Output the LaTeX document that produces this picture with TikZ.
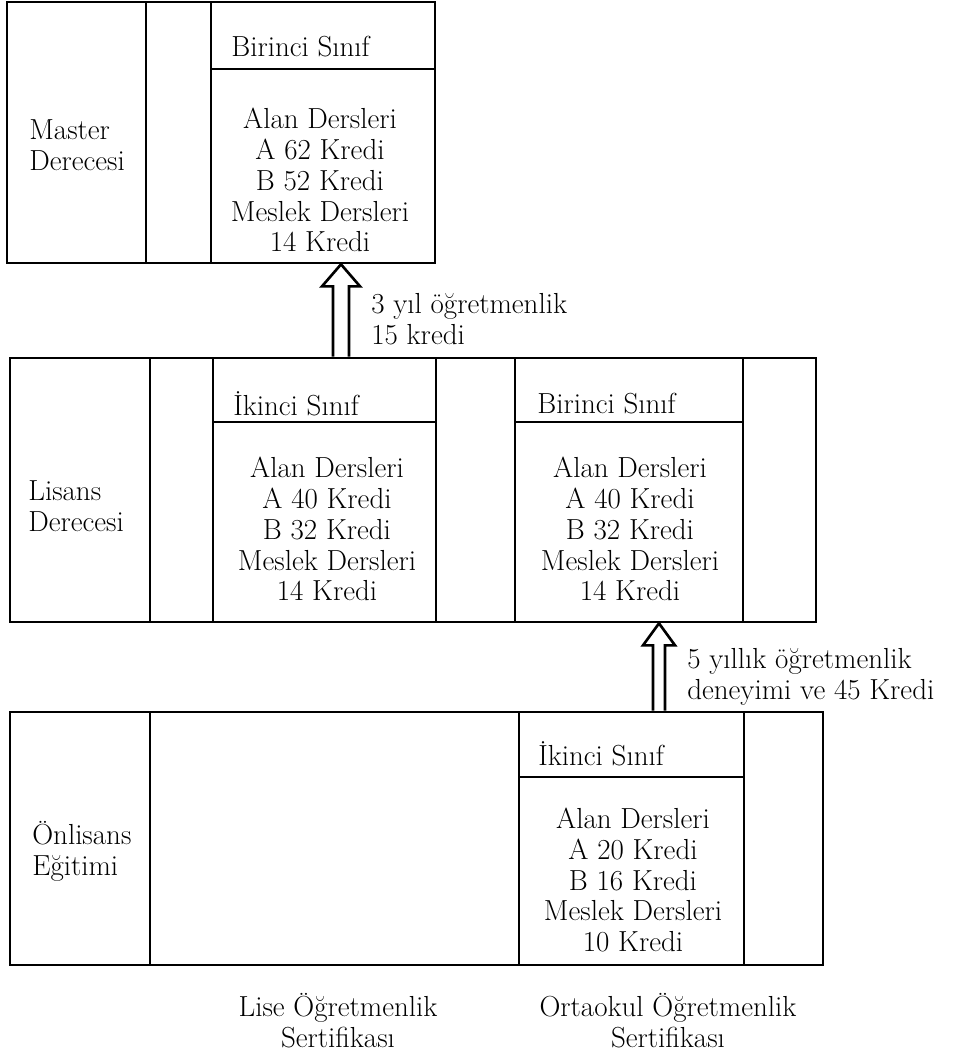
\documentclass[tikz,border=0pt]{standalone}
\usepackage{fontspec}
\usetikzlibrary{calc,fit}

\begin{document}
\begin{tikzpicture}[x=0.02cm, y=-0.02cm, line width=1.5pt,
    rowbox/.style={draw, inner sep=0pt},
    lbl/.style={inner sep=0pt, font=\fontsize{16.5}{17.6}\selectfont},
    hollow/.style={line width=1.5pt, line join=miter}]
  \useasboundingbox (0,0) rectangle (953,1063);
  % rows
  \node[rowbox, fit={(7,2) (435,263)}] (master) {};
  \node[rowbox, fit={(10,358) (816,622)}] (lisans) {};
  \node[rowbox, fit={(10,712) (823,965)}] (onlisans) {};
  % columns
  \foreach \x in {146,211}
    \draw (\x,2) -- (\x,263);
  \draw (211,69) -- (435,69);
  \foreach \x in {150,213,436,515,743}
    \draw (\x,358) -- (\x,622);
  \draw (213,422) -- (436,422) (515,422) -- (743,422);
  \foreach \x in {150,519,744}
    \draw (\x,712) -- (\x,965);
  \draw (519,777) -- (744,777);

  % Master
  \node[lbl, align=left, anchor=west] (m-name) at (28,145) {Master\\Derecesi};
  \node[lbl, anchor=west] (m-head) at (230,47) {Birinci Sınıf};
  \node[lbl, align=center] (m-body) at (320,180)
    {Alan Dersleri\\A 62 Kredi\\B 52 Kredi\\Meslek Dersleri\\14 Kredi};

  % Lisans
  \node[lbl, align=left, anchor=west] (l-name) at (27,506) {Lisans\\Derecesi};
  \node[lbl, anchor=west] (l2-head) at (232,404) {İkinci Sınıf};
  \node[lbl, align=center] (l2-body) at (327,529)
    {Alan Dersleri\\A 40 Kredi\\B 32 Kredi\\Meslek Dersleri\\14 Kredi};
  \node[lbl, anchor=west] (l1-head) at (536,404) {Birinci Sınıf};
  \node[lbl, align=center] (l1-body) at (630,529)
    {Alan Dersleri\\A 40 Kredi\\B 32 Kredi\\Meslek Dersleri\\14 Kredi};

  % Onlisans
  \node[lbl, align=left, anchor=west] (o-name) at (31,851) {Önlisans\\Eğitimi};
  \node[lbl, anchor=west] (o2-head) at (537,754) {İkinci Sınıf};
  \node[lbl, align=center] (o2-body) at (633,880)
    {Alan Dersleri\\A 20 Kredi\\B 16 Kredi\\Meslek Dersleri\\10 Kredi};

  % certificates
  \node[lbl, align=center] (lise) at (338,1021) {Lise Öğretmenlik\\Sertifikası};
  \node[lbl, align=center] (orta) at (668,1021) {Ortaokul Öğretmenlik\\Sertifikası};

  % arrows
  \coordinate (a1) at (341,0);
  \coordinate (a1tip) at (a1 |- master.south);
  \coordinate (a1foot) at (a1 |- lisans.north);
  \draw[hollow] ($(a1foot)+(-8,0)$) -- ($(a1tip)+(-8,22)$) -- ($(a1tip)+(-19,22)$)
    -- (a1tip) -- ($(a1tip)+(19,22)$) -- ($(a1tip)+(8,22)$) -- ($(a1foot)+(8,0)$);
  \node[lbl, align=left, anchor=west] (a1-note) at (370,319) {3 yıl öğretmenlik\\15 kredi};

  \coordinate (a2) at (659,0);
  \coordinate (a2tip) at (a2 |- lisans.south);
  \coordinate (a2foot) at (a2 |- onlisans.north);
  \draw[hollow] ($(a2foot)+(-6,0)$) -- ($(a2tip)+(-6,22)$) -- ($(a2tip)+(-16,22)$)
    -- (a2tip) -- ($(a2tip)+(16,22)$) -- ($(a2tip)+(6,22)$) -- ($(a2foot)+(6,0)$);
  \node[lbl, align=left, anchor=west] (a2-note) at (686,677) {5 yıllık öğretmenlik\\deneyimi ve 45 Kredi};
\end{tikzpicture}
\end{document}
